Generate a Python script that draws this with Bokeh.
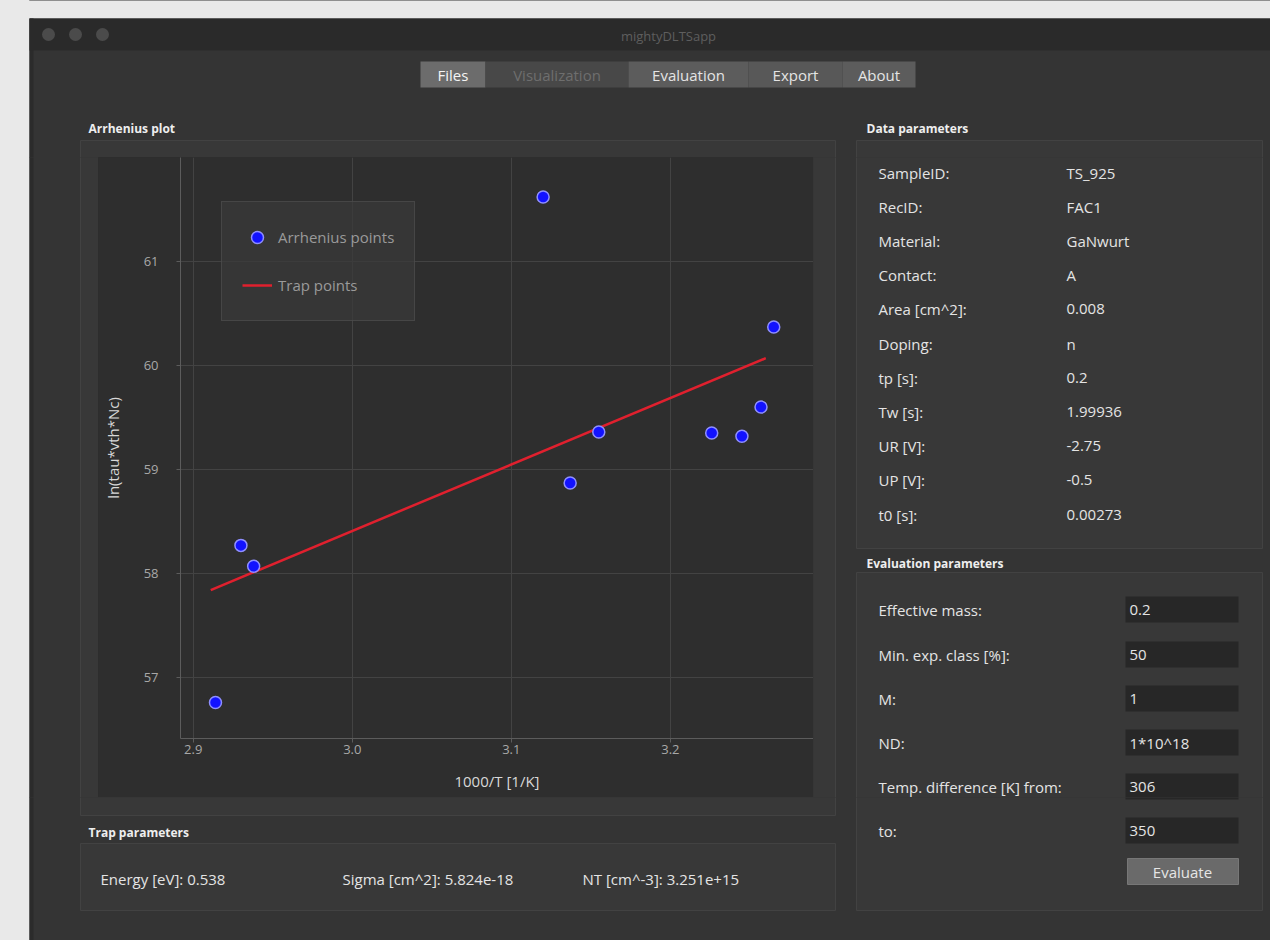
from bokeh.plotting import figure
from bokeh.layouts import column, row
from bokeh.models import Range1d, ColumnDataSource, FixedTicker, NumeralTickFormatter
from bokeh.core.properties import value
from bokeh.embed import file_html
from bokeh.resources import INLINE

FONT = "Open Sans"

# ---------------- data ----------------
arrh_x = [2.914, 2.930, 2.938, 3.120, 3.137, 3.155, 3.226, 3.245, 3.257, 3.265]
arrh_y = [56.76, 58.27, 58.07, 61.62, 58.87, 59.36, 59.35, 59.32, 59.60, 60.37]
trap_x = [2.911, 3.260]
trap_y = [57.84, 60.07]
x_ticks = [2.9, 3.0, 3.1, 3.2]
y_ticks = [57, 58, 59, 60, 61]

tab_names = ["Files", "Visualization", "Evaluation", "Export", "About"]
data_param_labels = ["SampleID:", "RecID:", "Material:", "Contact:", "Area [cm^2]:",
                     "Doping:", "tp [s]:", "Tw [s]:", "UR [V]:", "UP [V]:", "t0 [s]:"]
data_param_values = ["TS_925", "FAC1", "GaNwurt", "A", "0.008", "n", "0.2",
                     "1.99936", "-2.75", "-0.5", "0.00273"]
eval_labels = ["Effective mass:", "Min. exp. class [%]:", "M:", "ND:",
               "Temp. difference [K] from:", "to:"]
eval_values = ["0.2", "50", "1", "1*10^18", "306", "350"]
trap_params = ["Energy [eV]: 0.538", "Sigma [cm^2]: 5.824e-18", "NT [cm^-3]: 3.251e+15"]

# ---------------- window chrome (screen pixel layout) ----------------
WIN = "#343434"
VIEW = "#2e2e2e"
DESK = "#e9e9e9"
rects = dict(l=[], r=[], t=[], b=[], fill=[], line=[], la=[])


def add_rect(l, r, t, b, fill, line="#000000", la=0.0):
    rects["l"].append(l); rects["r"].append(r)
    rects["t"].append(t); rects["b"].append(b)
    rects["fill"].append(fill); rects["line"].append(line); rects["la"].append(la)


texts = dict(x=[], y=[], text=[], color=[], size=[], style=[], align=[])


def add_text(x, y, s, color="#e4e4e4", size="15px", style="normal", align="left"):
    texts["x"].append(x); texts["y"].append(y); texts["text"].append(s)
    texts["color"].append(color); texts["size"].append(size)
    texts["style"].append(style); texts["align"].append(align)


# light desktop around the window (left strip and top strip)
add_rect(-10, 29, -10, 960, DESK)
add_rect(-10, 1290, -10, 18, DESK)
add_rect(29, 33, 18, 960, "#2b2b2b")
add_rect(29, 1290, 18, 50, "#2a2a2a")
add_text(668, 35, "mightyDLTSapp", "#5e5e5e", "13px", "normal", "center")

tab_edges = [420, 485, 628, 748, 842, 915]
tab_fills = ["#6c6c6c", "#484848", "#5c5c5c", "#585858", "#5c5c5c"]
tab_colors = ["#f4f4f4", "#6e6e6e", "#e4e4e4", "#e4e4e4", "#e4e4e4"]
for i, name in enumerate(tab_names):
    add_rect(tab_edges[i], tab_edges[i + 1], 61, 87, tab_fills[i])
    add_text((tab_edges[i] + tab_edges[i + 1]) / 2, 74, name, tab_colors[i], "15px", "normal", "center")

for (l, r, t, b) in [(80, 835, 140, 815), (80, 835, 843, 910), (856, 1262, 140, 548), (856, 1262, 572, 910)]:
    add_rect(l, r, t, b, "#383838", "#424242", 1.0)

add_text(88, 128, "Arrhenius plot", "#eeeeee", "12px", "bold")
add_text(866, 128, "Data parameters", "#eeeeee", "12px", "bold")
add_text(866, 563, "Evaluation parameters", "#eeeeee", "12px", "bold")
add_text(88, 832, "Trap parameters", "#eeeeee", "12px", "bold")

for i, (lab, val) in enumerate(zip(data_param_labels, data_param_values)):
    yy = 172 + i * 34.2
    add_text(878, yy, lab)
    add_text(1066, yy, val)

eval_rows = [609, 654, 698, 742, 786, 830]
for yy, lab, val in zip(eval_rows, eval_labels, eval_values):
    add_rect(1125, 1238, yy - 13, yy + 13, "#272727")
    add_text(878, yy, lab)
    add_text(1129, yy, val)

add_rect(1127, 1238, 858, 884, "#6a6a6a", "#777777", 1.0)
add_text(1182, 871, "Evaluate", "#e6e6e6", "15px", "normal", "center")

for xx, s in zip([100, 342, 582], trap_params):
    add_text(xx, 878, s)

lights = dict(x=[48, 75, 102], y=[34, 34, 34])

EDGE_BG = "linear-gradient(to right, %s 29px, %s 29px)" % (DESK, WIN)


def chrome_fig(x0, y0, w, h, bg):
    f = figure(width=w, height=h, x_range=Range1d(x0, x0 + w), y_range=Range1d(y0 + h, y0),
               output_backend="svg", toolbar_location=None, title=None,
               x_axis_location=None, y_axis_location=None, min_border=0,
               outline_line_color=None, background_fill_color=WIN, background_fill_alpha=0,
               border_fill_color=WIN, border_fill_alpha=0, styles={"background": bg})
    f.grid.visible = False
    f.quad(left="l", right="r", top="t", bottom="b", fill_color="fill",
           line_color="line", line_alpha="la", source=ColumnDataSource(rects))
    f.scatter(x=lights["x"], y=lights["y"], size=13, fill_color="#4b4b4b", line_color=None)
    sel = [i for i in range(len(texts["x"]))
           if x0 <= texts["x"][i] < x0 + w and y0 <= texts["y"][i] < y0 + h]
    if sel:
        sub = {k: [v[i] for i in sel] for k, v in texts.items()}
        f.text(x="x", y="y", text="text", text_color="color", text_font_size="size",
               text_font_style="style", text_align="align", text_baseline="middle",
               text_font=value(FONT), source=ColumnDataSource(sub))
    return f


W, H = 1270, 940
PX0, PX1, PY0, PY1 = 98, 813, 157, 797

top = chrome_fig(0, 0, W, PY0, EDGE_BG)
mid_left = chrome_fig(0, PY0, PX0, PY1 - PY0, EDGE_BG)
mid_right = chrome_fig(PX1, PY0, W - PX1, PY1 - PY0, WIN)
bottom = chrome_fig(0, PY1, W, H - PY1, EDGE_BG)

# ---------------- Arrhenius plot ----------------
p = figure(width=PX1 - PX0, height=PY1 - PY0, x_range=Range1d(2.892, 3.290),
           y_range=Range1d(56.413, 62.0),
           output_backend="svg", toolbar_location=None, title=None,
           min_border_left=82, min_border_right=0, min_border_top=0, min_border_bottom=59,
           background_fill_color=VIEW, border_fill_color=VIEW, outline_line_color=None,
           styles={"background-color": VIEW})

p.line(trap_x, trap_y, line_color="#e0202e", line_width=2.5, legend_label="Trap points")
p.scatter(arrh_x, arrh_y, size=12, fill_color="#1212ff", line_color="#8f8fff", line_width=1.5,
          legend_label="Arrhenius points")

p.xaxis.ticker = FixedTicker(ticks=x_ticks)
p.yaxis.ticker = FixedTicker(ticks=y_ticks)
p.xaxis.formatter = NumeralTickFormatter(format="0.0")
p.xaxis.axis_label = "1000/T [1/K]"
p.yaxis.axis_label = "ln(tau*vth*Nc)"
for ax in (p.xaxis, p.yaxis):
    ax.axis_line_color = "#5c5c5c"
    ax.major_tick_line_color = "#5c5c5c"
    ax.minor_tick_line_color = None
    ax.major_tick_out = 4
    ax.major_tick_in = 0
    ax.major_label_text_color = "#a8a8a8"
    ax.major_label_text_font = FONT
    ax.major_label_text_font_size = "13px"
    ax.axis_label_text_color = "#d8d8d8"
    ax.axis_label_text_font = FONT
    ax.axis_label_text_font_size = "15px"
    ax.axis_label_text_font_style = "normal"
p.xaxis.major_label_standoff = 2
p.xaxis.axis_label_standoff = 14
p.yaxis.major_label_standoff = 18
p.yaxis.axis_label_standoff = 18
p.grid.grid_line_color = "#434343"
p.grid.grid_line_width = 1

lg = p.legend[0]
lg.items = list(reversed(lg.items))
lg.location = (41, 417)
lg.background_fill_color = "#3a3a3a"
lg.background_fill_alpha = 0.75
lg.border_line_color = "#565656"
lg.label_text_color = "#9a9a9a"
lg.label_text_font = FONT
lg.label_text_font_size = "15px"
lg.padding = 20
lg.spacing = 18
lg.glyph_width = 30
lg.glyph_height = 30
lg.label_height = 30
lg.label_standoff = 6
lg.margin = 0

mid = row(column(mid_left, styles={"background": EDGE_BG}), p,
          column(mid_right, styles={"background-color": WIN}),
          spacing=0, styles={"background": EDGE_BG})
layout = column(top, mid, bottom, spacing=0, styles={"background": EDGE_BG})

html = file_html(layout, INLINE)
html = html.replace("<body>", '<body style="background-color:#343434">', 1)
open("out.html", "w").write(html)
